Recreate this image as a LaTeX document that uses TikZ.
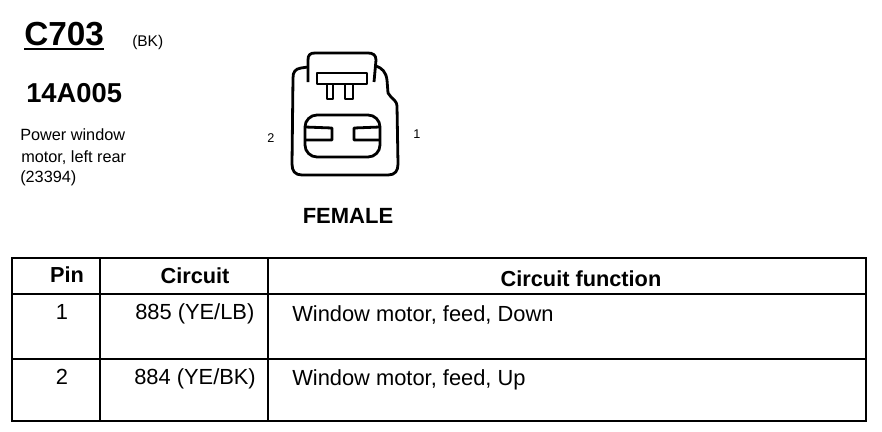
\documentclass[tikz,border=0pt]{standalone}
\usepackage{fontspec}
\setmainfont{Liberation Sans}
\tikzset{mytext/.style={inner sep=0pt,anchor=base west,font=\fontsize{16.4}{18}\selectfont},
myhead/.style={inner sep=0pt,anchor=base,font=\fontsize{16.3}{18}\selectfont\bfseries},
mysmall/.style={inner sep=0pt,anchor=base west,font=\fontsize{12.2}{15}\selectfont},
myline/.style={line width=2.1pt,line join=round},
mygrid/.style={line width=2.2pt}}
\begin{document}
\begin{tikzpicture}[x=.75pt,y=-.75pt]
\useasboundingbox (0,0) rectangle (882,432);
% heading on the left
\node[inner sep=0pt,anchor=base west,font=\fontsize{25}{28}\selectfont\bfseries] (title) at (24,45){C703};
\draw[line width=1.4pt] ([yshift=-2.5pt]title.south west) -- ([yshift=-2.5pt]title.south east);
\node[mysmall,font=\fontsize{11.6}{14}\selectfont] (color) at (132,46){(BK)};
\node[inner sep=0pt,anchor=base west,font=\fontsize{20.5}{24}\selectfont\bfseries] (part) at (26,102){14A005};
\node[mysmall] (descA) at (20,140){Power window};
\node[mysmall] (descB) at (21,162){motor, left rear};
\node[mysmall] (descC) at (20,182){(23394)};
% connector outline
\draw[myline] (308,67) -- (301,68) .. controls (295,69) and (293,72) .. (293,78) -- (292,164)
  .. controls (292,171) and (295,175) .. (302,175) -- (388,175)
  .. controls (395,175) and (398,171) .. (398,164) -- (397,106)
  .. controls (397,102) and (394,100) .. (391,97) -- (388,93) -- (387,80)
  .. controls (386,72) and (382,68) .. (376,66);
\draw[myline] (308,82) -- (308,60) .. controls (308,55) and (310,53) .. (315,53) -- (368,53)
  .. controls (373,53) and (376,55) .. (376,60) -- (374,82);
\draw[myline] (317,73) rectangle (367,84);
\draw[myline] (327,84) -- (327,99) -- (333,99) -- (333,84);
\draw[myline] (345,84) -- (345,99) -- (353,99) -- (353,84);
\draw[myline,rounded corners=9pt] (305,115) rectangle (380,157);
\draw[myline] (305,127) -- (332,128) -- (332,140) -- (305,140);
\draw[myline] (380,127) -- (354,128) -- (354,140) -- (380,140);
\node[mysmall,font=\fontsize{9.5}{11}\selectfont,anchor=center] (pinB) at (271,138){2};
\node[mysmall,font=\fontsize{9.5}{11}\selectfont,anchor=center] (pinA) at (417,134){1};
\node[inner sep=0pt,anchor=base,font=\fontsize{16.5}{18}\selectfont\bfseries] (gender) at (348,223){FEMALE};
% table
\draw[mygrid] (12,258) rectangle (866,421);
\draw[mygrid] (12,294) -- (866,294) (12,359) -- (866,359);
\draw[mygrid] (100,258) -- (100,421) (268,258) -- (268,421);
\node[myhead] (headA) at (67,282){Pin};
\node[myhead] (headB) at (195,283){Circuit};
\node[myhead] (headC) at (581,286){Circuit function};
\node[mytext,anchor=base] (pinOne) at (62,319){1};
\node[mytext] (circOne) at (135,319){885 (YE/LB)};
\node[mytext] (funcOne) at (292,321){Window motor, feed, Down};
\node[mytext,anchor=base] (pinTwo) at (62,384){2};
\node[mytext] (circTwo) at (134,384){884 (YE/BK)};
\node[mytext] (funcTwo) at (292,385){Window motor, feed, Up};
\end{tikzpicture}
\end{document}
